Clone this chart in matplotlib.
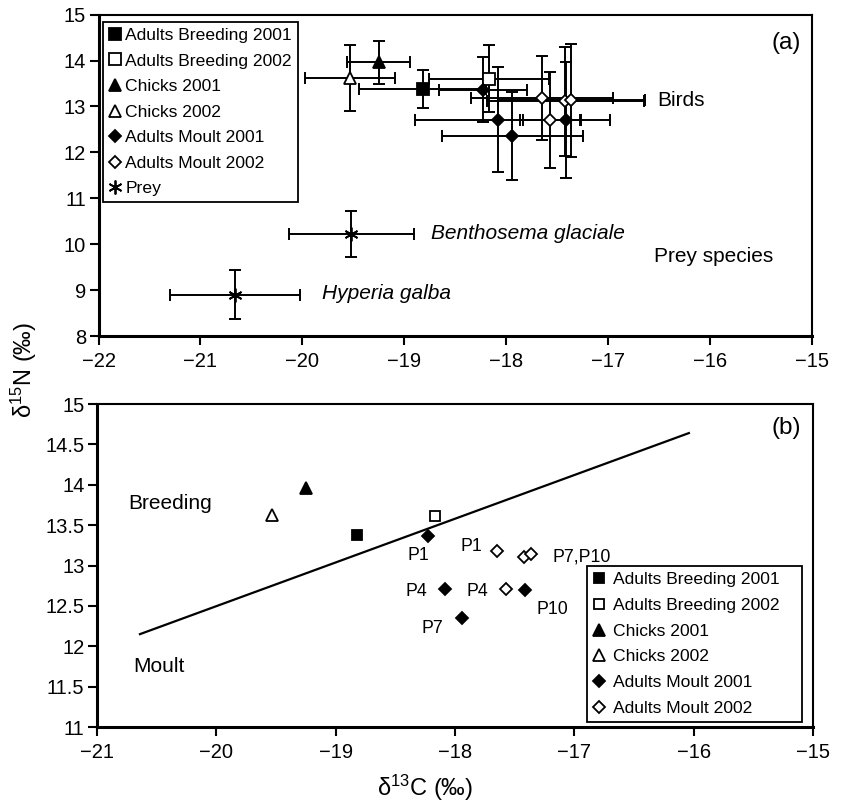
import matplotlib
matplotlib.use('Agg')
import matplotlib.pyplot as plt
from matplotlib.ticker import FuncFormatter

plt.rcParams['font.family'] = ['Liberation Sans', 'DejaVu Sans']
plt.rcParams['mathtext.fontset'] = 'custom'
plt.rcParams['mathtext.rm'] = 'Liberation Sans'
plt.rcParams['mathtext.it'] = 'Liberation Sans:italic'

# ---------------- data ----------------
group_labels = ['Adults Breeding 2001', 'Adults Breeding 2002', 'Chicks 2001',
                'Chicks 2002', 'Adults Moult 2001', 'Adults Moult 2002']

breed01_c = [-18.82]; breed01_n = [13.38]; breed01_cerr = [0.62]; breed01_nerr = [0.41]
breed02_c = [-18.17]; breed02_n = [13.61]; breed02_cerr = [0.59]; breed02_nerr = [0.74]
chick01_c = [-19.25]; chick01_n = [13.96]; chick01_cerr = [0.31]; chick01_nerr = [0.46]
chick02_c = [-19.53]; chick02_n = [13.62]; chick02_cerr = [0.44]; chick02_nerr = [0.72]

feathers = ['P1', 'P4', 'P7', 'P10']
moult01_c = [-18.23, -18.08, -17.94, -17.41]
moult01_n = [13.37, 12.71, 12.35, 12.70]
moult01_cerr = [0.43, 0.81, 0.69, 0.43]
moult01_nerr = [0.70, 1.14, 0.96, 1.26]
moult02_c = [-17.65, -17.57, -17.42, -17.36]
moult02_n = [13.18, 12.71, 13.11, 13.14]
moult02_cerr = [0.70, 0.29, 0.77, 0.72]
moult02_nerr = [0.91, 1.05, 1.18, 1.23]

prey_names = ['Benthosema glaciale', 'Hyperia galba']
prey_c = [-19.52, -20.66]
prey_n = [10.22, 8.90]
prey_cerr = [0.615, 0.64]
prey_nerr = [0.50, 0.53]

boundary_c = [-20.64, -16.04]
boundary_n = [12.15, 14.64]

xticks_a = [-22, -21, -20, -19, -18, -17, -16, -15]
yticks_a = [8, 9, 10, 11, 12, 13, 14, 15]
xticks_b = [-21, -20, -19, -18, -17, -16, -15]
yticks_b = [11, 11.5, 12, 12.5, 13, 13.5, 14, 14.5, 15]

# ---------------- figure ----------------
W, H = 841, 805
fig = plt.figure(figsize=(W / 100, H / 100), dpi=100)
ax1 = fig.add_axes([98.5 / W, 1 - 336 / H, (812 - 98.5) / W, (336 - 14.7) / H])
ax2 = fig.add_axes([97 / W, 1 - 727 / H, (813 - 97) / W, (727 - 404) / H])

series = [
    (breed01_c, breed01_n, breed01_cerr, breed01_nerr, 's', 'black', 8, 7.8),
    (breed02_c, breed02_n, breed02_cerr, breed02_nerr, 's', 'white', 8, 7.8),
    (chick01_c, chick01_n, chick01_cerr, chick01_nerr, '^', 'black', 9, 8.6),
    (chick02_c, chick02_n, chick02_cerr, chick02_nerr, '^', 'white', 9, 8.6),
    (moult01_c, moult01_n, moult01_cerr, moult01_nerr, 'D', 'black', 6.0, 6.2),
    (moult02_c, moult02_n, moult02_cerr, moult02_nerr, 'D', 'white', 6.0, 6.2),
]

ebkw = dict(fmt='none', ecolor='black', elinewidth=1.4, capsize=4.4, capthick=1.4, zorder=2)

# ---- panel (a) ----
for (c, n, ce, ne, m, fc, msa, msb) in series:
    ax1.errorbar(c, n, xerr=ce, yerr=ne, **ebkw)
ax1.errorbar(prey_c, prey_n, xerr=prey_cerr, yerr=prey_nerr, **ebkw)
handles = []
for (c, n, ce, ne, m, fc, msa, msb), lab in zip(series, group_labels):
    h, = ax1.plot(c, n, linestyle='none', marker=m, ms=msa, mfc=fc, mec='black',
                  mew=1.3, zorder=3, label=lab)
    handles.append(h)
hp, = ax1.plot(prey_c, prey_n, linestyle='none', marker=(6, 2, 0), ms=10,
               mec='black', mew=1.3, zorder=3, label='Prey')
handles.append(hp)

ax1.set_xlim(-22, -15)
ax1.set_ylim(8, 15)
ax1.set_xticks(xticks_a)
ax1.set_yticks(yticks_a)

legkw = dict(loc='upper left', mode='expand', fontsize=12.6, handlelength=0.7,
             borderpad=0.33, borderaxespad=0, fancybox=False, framealpha=1,
             edgecolor='black')
leg1 = ax1.legend(handles=handles, bbox_to_anchor=(0.0063, 0.3, 0.273, 0.6773),
                  labelspacing=0.59, handletextpad=0.25, **legkw)
leg1.get_frame().set_linewidth(1.3)

ax1.text(-15.25, 14.38, '(a)', fontsize=17.5, ha='center', va='center')
ax1.text(-16.52, 13.14, 'Birds', fontsize=15, ha='left', va='center')
ax1.text(-18.74, 10.24, prey_names[0], fontsize=15, style='italic', ha='left', va='center')
ax1.text(-19.81, 8.93, prey_names[1], fontsize=15, style='italic', ha='left', va='center')
ax1.text(-16.55, 9.74, 'Prey species', fontsize=15, ha='left', va='center')

# ---- panel (b) ----
ax2.plot(boundary_c, boundary_n, color='black', lw=1.6, zorder=1)
handles2 = []
for (c, n, ce, ne, m, fc, msa, msb), lab in zip(series, group_labels):
    h, = ax2.plot(c, n, linestyle='none', marker=m, ms=msb, mfc=fc, mec='black',
                  mew=1.3, zorder=3, label=lab)
    handles2.append(h)

ax2.set_xlim(-21, -15)
ax2.set_ylim(11, 15)
ax2.set_xticks(xticks_b)
ax2.set_yticks(yticks_b)
ax2.yaxis.set_major_formatter(FuncFormatter(lambda v, p: ('%g' % v)))

leg2 = ax2.legend(handles=handles2, bbox_to_anchor=(0.684, 0.02, 0.300, 0.478),
                  labelspacing=0.6, handletextpad=0.45, **legkw)
leg2.get_frame().set_linewidth(1.3)

pfs = 12.8
ax2.text(-18.31, 13.13, feathers[0], fontsize=pfs, ha='center', va='center')
ax2.text(-17.86, 13.23, feathers[0], fontsize=pfs, ha='center', va='center')
ax2.text(-18.32, 12.68, feathers[1], fontsize=pfs, ha='center', va='center')
ax2.text(-17.81, 12.68, feathers[1], fontsize=pfs, ha='center', va='center')
ax2.text(-18.19, 12.22, feathers[2], fontsize=pfs, ha='center', va='center')
ax2.text(-17.18, 13.11, feathers[2] + ',' + feathers[3], fontsize=pfs, ha='left', va='center')
ax2.text(-17.18, 12.46, feathers[3], fontsize=pfs, ha='center', va='center')
ax2.text(-20.74, 13.77, 'Breeding', fontsize=15, ha='left', va='center')
ax2.text(-20.70, 11.75, 'Moult', fontsize=15, ha='left', va='center')
ax2.text(-15.22, 14.70, '(b)', fontsize=17.5, ha='center', va='center')

for ax in (ax1, ax2):
    for s in ('left', 'bottom'):
        ax.spines[s].set_linewidth(2.2)
    for s in ('top', 'right'):
        ax.spines[s].set_linewidth(1.5)
    ax.tick_params(axis='both', which='both', direction='out', length=6.5, width=1.5,
                   labelsize=14.5, top=False, right=False)
    ax.tick_params(axis='x', pad=5)
    ax.tick_params(axis='y', pad=2.5)

fig.text(24 / W, 1 - 370 / H, r'$\mathregular{\delta^{15}}$N (‰)', rotation=90,
         fontsize=17, ha='center', va='center')
fig.text(425 / W, 1 - 788 / H, r'$\mathregular{\delta^{13}}$C (‰)',
         fontsize=17, ha='center', va='center')

fig.savefig('out.png', dpi=100)
